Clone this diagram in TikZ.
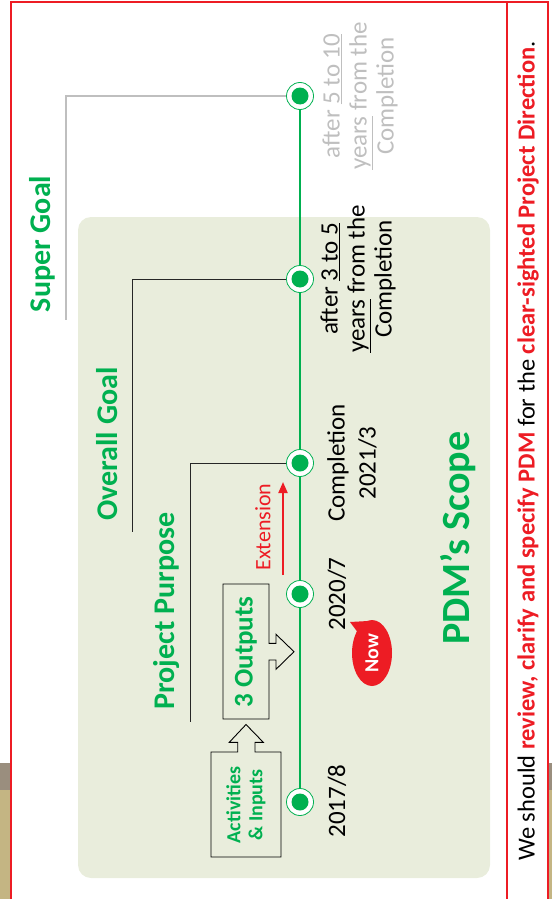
\documentclass[tikz,border=0pt]{standalone}
\usepackage{fontspec}
\setmainfont{Carlito}
\usetikzlibrary{shapes.geometric,arrows.meta}

\definecolor{pdmgreen}{HTML}{00B050}
\definecolor{pdmred}{HTML}{ED1C24}
\definecolor{scopebg}{HTML}{E9EDDC}
\definecolor{lightgrey}{HTML}{BFBFBF}
\definecolor{photogrey}{HTML}{9A8E7E}
\definecolor{phototan}{HTML}{C4B583}

\tikzset{
  milestone/.style={circle, draw=pdmgreen, fill=white, line width=0.8pt, minimum size=27pt, inner sep=0pt},
  goaltext/.style={rotate=90, text=pdmgreen, font=\fontsize{30}{36}\selectfont\bfseries},
  datetext/.style={rotate=90, align=center, font=\fontsize{25}{27}\selectfont},
  bracket/.style={line width=1pt, draw=black!85},
  blockarrow/.style={draw=black, fill=scopebg, line width=0.9pt},
}

\begin{document}
\begin{tikzpicture}[x=1pt, y=-1pt]
\useasboundingbox (0,0) rectangle (552,899);

% Photo strips outside the frame
\fill[photogrey] (0,763) rectangle (10,790);
\fill[phototan] (0,790) rectangle (10,899);
\fill[photogrey] (549,763) rectangle (552,790);
\fill[phototan] (549,790) rectangle (552,899);

% Scope background
\fill[scopebg, rounded corners=13pt] (78,217) rectangle (490,878);

% Red frame
\draw[pdmred, line width=2pt] (11,899) -- (11,2) -- (548,2) -- (548,899);
\draw[pdmred, line width=2pt] (507,2) -- (507,899);

% Milestones
\node[milestone] (super) at (300,96) {};
\node[milestone] (goal) at (300,279) {};
\node[milestone] (compl) at (300,463) {};
\node[milestone] (now) at (300,594) {};
\node[milestone] (start) at (300,802) {};

% Timeline
\draw[pdmgreen, line width=2.7pt] (start) -- (now) -- (compl) -- (goal) -- (super);
\foreach \m in {start,now,compl,goal,super}
  \fill[pdmgreen] (\m) circle (8.5pt);

% Brackets to the goals
\coordinate (sgend) at (66,320);
\coordinate (ogend) at (132,532);
\coordinate (ppend) at (190,722);
\draw[bracket, draw=lightgrey, line width=1.3pt] (super.west) -| (sgend);
\draw[bracket] (goal.west) -| (ogend);
\draw[bracket] (compl.west) -| (ppend);

% Goal labels
\node[goaltext] (sglabel) at (42,244) {Super Goal};
\node[goaltext] (oglabel) at (107,444) {Overall Goal};
\node[goaltext] (pplabel) at (167,611) {Project Purpose};

% Outputs box with arrow to the timeline
\draw[blockarrow] (223,584) -- (269,584) -- (269,643.3) -- (276,643.3) -- (276,634.3)
  -- (294,651.7) -- (276,669.3) -- (276,660) -- (269,660) -- (269,719) -- (223,719) -- cycle;
\node[rotate=90, text=pdmgreen, font=\fontsize{27}{30}\selectfont\bfseries] (outs) at (246,652) {3 Outputs};

% Activities box with arrow to the outputs
\draw[blockarrow] (211,752) -- (237.7,752) -- (237.7,742.3) -- (229.3,742.3) -- (246,724.5)
  -- (263.3,742.3) -- (255,742.3) -- (255,752) -- (281,752) -- (281,857) -- (211,857) -- cycle;
\node[rotate=90, align=center, text=pdmgreen, font=\fontsize{20}{22}\selectfont\bfseries] (acts) at (246,805) {Activities\\\& Inputs};

% Dates
\node[datetext] (d1) at (337,801) {2017/8};
\node[datetext] (d2) at (337,594) {2020/7};
\node[datetext, font=\fontsize{25}{31}\selectfont] (d3) at (352,463) {Completion\\2021/3};
\node[datetext] (d4) at (358,279) {after \underline{3 to 5}\\\underline{years} from the\\Completion};
\node[datetext, text=lightgrey] (d5) at (360,96) {after \underline{5 to 10}\\\underline{years} from the\\Completion};

% Extension
\coordinate (extfrom) at (283,575);
\coordinate (extto) at (283,482);
\draw[pdmred, line width=2pt, -{Triangle[length=11pt,width=9pt]}] (extfrom) -- (extto);
\node[rotate=90, text=pdmred, font=\fontsize{22}{26}\selectfont] (ext) at (263,527) {Extension};

% Now callout
\fill[pdmred] (350,622) -- (359,634) -- (368,621) -- cycle;
\node[ellipse, fill=pdmred, minimum width=66pt, minimum height=40pt, inner sep=0pt, rotate=90,
  text=white, font=\fontsize{20}{24}\selectfont\bfseries] (nowtag) at (372,653) {Now};

% Title
\node[rotate=90, text=pdmgreen, font=\fontsize{40}{48}\selectfont\bfseries] (scope) at (458,538) {PDM’s Scope};

% Message
\node[rotate=90, font=\fontsize{24.5}{28}\selectfont] (msg) at (528,451)
  {We should \textcolor{pdmred}{\bfseries review, clarify and specify PDM} for the \textcolor{pdmred}{\bfseries clear-sighted Project Direction}.};

\end{tikzpicture}
\end{document}
